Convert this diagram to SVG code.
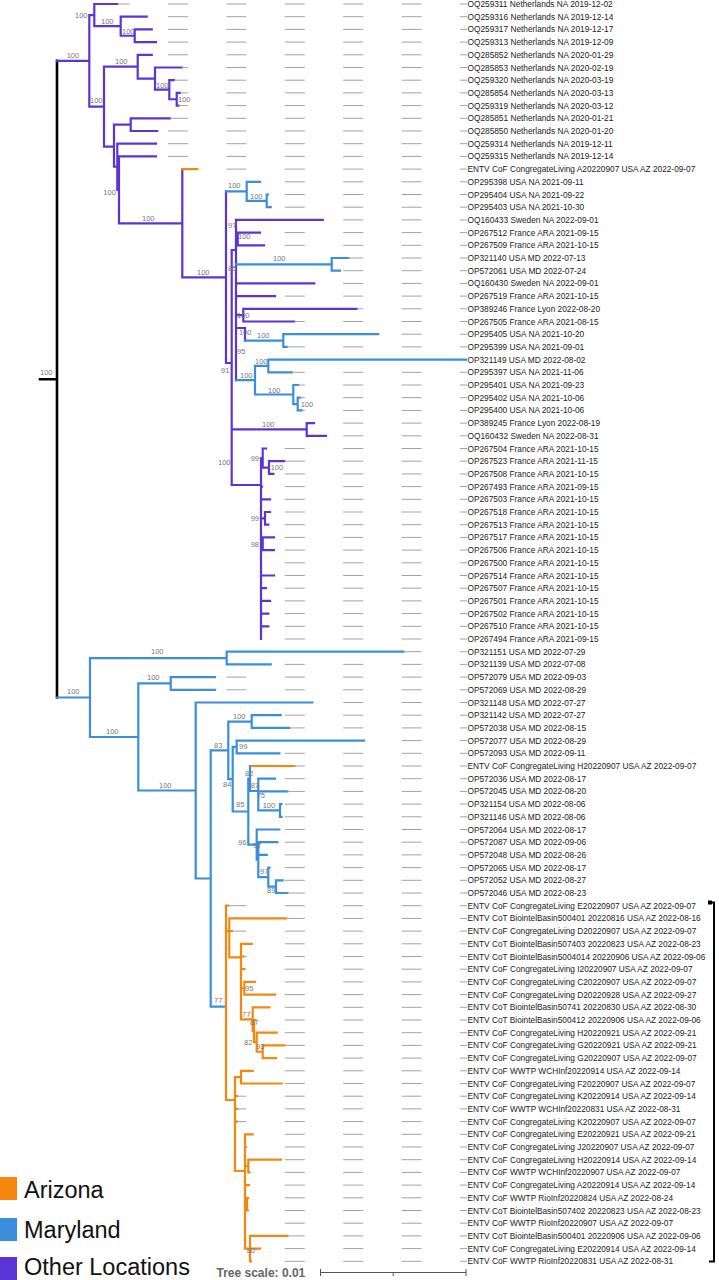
<svg xmlns="http://www.w3.org/2000/svg" width="719" height="1280" viewBox="0 0 719 1280">
<style>
.br{fill:none;stroke-width:2.2;stroke-linecap:square}
.p{stroke:#5b34d8}.b{stroke:#3a8edb}.o{stroke:#f5870e}.k{stroke:#000}
.d{stroke:#a3a3a3;stroke-width:1;stroke-dasharray:20 38.4;stroke-dashoffset:13}
.lb{font-family:"Liberation Sans",Arial,sans-serif;font-size:8.3px;fill:#222}
.bs{font-family:"Liberation Sans",Arial,sans-serif;font-size:7.5px;fill:#777}
.lg{font-family:"Liberation Sans",Arial,sans-serif;font-size:23.5px;fill:#111}
</style>
<rect width="719" height="1280" fill="#fff"/>
<g id="connectors">
<path class="br k" d="M40,379.2 H57 M57,60.9 V697.5" style="stroke-width:2.6"/>
<path class="br p" d="M57,60.9 H89.3 M89.3,15.1 V106.7 M89.3,15.1 H94.3 M94.3,4 V26.2 M94.3,4 H117.3 M94.3,26.2 H120.7 M120.7,16.7 V35.75 M120.7,16.7 H146.7 M120.7,35.75 H134.7 M134.7,29.4 V42.1 M134.7,29.4 H151.7 M134.7,42.1 H156 M89.3,106.7 H104 M104,66.7 V146.7 M104,66.7 H137.7 M137.7,54.8 V78.6 M137.7,54.8 H151.7 M137.7,78.6 H155 M155,67.5 V89.7 M155,67.5 H181.7 M155,89.7 H169.3 M169.3,80.2 V99.25 M169.3,80.2 H174 M169.3,99.25 H176.7 M176.7,92.9 V105.6 M176.7,92.9 H180 M176.7,105.6 H178.5 M104,146.7 H114 M114,124.65 V166.7 M114,124.65 H130.7 M130.7,118.3 V131 M130.7,118.3 H170 M130.7,131 H157.3 M114,166.7 H117.3 M117.3,143.7 V189.8 M117.3,143.7 H156 M117.3,189.8 H119 M119,156.4 V223.3 M119,156.4 H156 M119,223.3 H182.3 M182.3,169.1 V277.3 M182.3,277.3 H226 M226,191.3 V363 M226,363 H231.7 M231.7,250 V485 M231.7,250 H236 M236,219.9 V380.2 M236,219.9 H322.7 M236,239 H237.7 M237.7,232.6 V245.3 M237.7,232.6 H260 M237.7,245.3 H264 M236,283.4 H314.3 M236,296.1 H275 M236,315.15 H243.3 M243.3,308.8 V321.5 M243.3,308.8 H356.7 M243.3,321.5 H294.3 M236,328 H245 M245,328 V340.55 M231.7,429.45 H306.7 M306.7,423.1 V435.8 M306.7,423.1 H314 M306.7,435.8 H326 M231.7,485 H261 M261,458 V639 M261,458 H262.7 M262.7,448.5 V467.55 M262.7,448.5 H266 M262.7,467.55 H269 M269,461.2 V473.9 M269,461.2 H284 M269,473.9 H273.3 M261,486.6 H262 M261,499.3 H270 M261,518.35 H265 M265,512 V524.7 M265,512 H270 M265,524.7 H268.3 M261,543.75 H262.7 M262.7,537.4 V550.1 M262.7,537.4 H274 M262.7,550.1 H274 M261,575.5 H274 M261,588.2 H266 M261,600.9 H270 M261,613.6 H268.3 M261,626.3 H268.3"/>
<path class="br b" d="M226,191.3 H246.7 M246.7,181.8 V200.85 M246.7,181.8 H260 M246.7,200.85 H266.7 M266.7,194.5 V207.2 M266.7,194.5 H268 M266.7,207.2 H270.7 M236,264.35 H331.7 M331.7,258 V270.7 M331.7,258 H348.3 M331.7,270.7 H340 M245,340.55 H283.3 M283.3,334.2 V346.9 M283.3,334.2 H378.3 M283.3,346.9 H286.7 M236,380.2 H255 M255,365.95 V394.5 M255,365.95 H268.3 M268.3,359.6 V372.3 M268.3,359.6 H466 M268.3,372.3 H291.7 M255,394.5 H293.3 M293.3,385 V404.05 M293.3,385 H298.3 M293.3,404.05 H297.7 M297.7,397.7 V410.4 M297.7,397.7 H300 M297.7,410.4 H301.7"/>
<path class="br b" d="M57,697.5 H90 M90,658.05 V737 M90,658.05 H226.7 M226.7,651.7 V664.4 M226.7,651.7 H403.3 M226.7,664.4 H270.7 M90,737 H138.3 M138.3,683.45 V790.5 M138.3,683.45 H170.7 M170.7,677.1 V689.8 M170.7,677.1 H215 M170.7,689.8 H215 M138.3,790.5 H195.7 M195.7,702.5 V878.5 M195.7,702.5 H312.3 M195.7,878.5 H210.7 M210.7,750.4 V1006.7 M210.7,750.4 H228.3 M228.3,721.55 V779.2 M228.3,721.55 H251.7 M251.7,715.2 V727.9 M251.7,715.2 H280.7 M251.7,727.9 H289.3 M228.3,779.2 H232.7 M232.7,746.95 V811.5 M232.7,746.95 H236.7 M236.7,740.6 V753.3 M236.7,740.6 H364 M236.7,753.3 H279.3 M232.7,811.5 H248.3 M248.3,778.5 V844.6 M248.3,778.5 H250 M250,766 V791 M250,791 H258.3 M258.3,778.7 V810.45 M258.3,778.7 H275 M258.3,791.4 H287.3 M258.3,810.45 H280 M280,804.1 V816.8 M280,804.1 H281.5 M280,816.8 H281.5 M248.3,844.6 H256.7 M256.7,829.5 V859.7 M256.7,829.5 H279.3 M256.7,859.7 H258.3 M258.3,842.2 V877.1 M258.3,842.2 H277.3 M258.3,854.9 H266.7 M258.3,877.1 H268.3 M268.3,867.6 V886.65 M268.3,867.6 H269.5 M268.3,886.65 H276 M276,880.3 V893 M276,880.3 H282.7 M276,893 H287.3 M210.7,1006.7 H226"/>
<path class="br o" d="M182.3,169.1 H197.3 M251.5,766 H294.3 M226,905.7 V1100 M226,905.7 H228 M226,931.1 H229.3 M229.3,918.4 V957.3 M229.3,918.4 H286 M229.3,931.1 H232 M229.3,957.3 H241 M241,943.8 V1019.3 M241,943.8 H251.7 M241,956.5 H243.5 M241,969.2 H244 M241,988.25 H244.3 M244.3,981.9 V994.6 M244.3,981.9 H255 M244.3,994.6 H275 M241,1019.3 H252.7 M252.7,1007.3 V1030.85 M252.7,1007.3 H269.3 M252.7,1030.85 H254 M254,1020 V1042.2 M254,1020 H255.5 M254,1042.2 H256.7 M256.7,1032.7 V1051.75 M256.7,1032.7 H276.7 M256.7,1051.75 H262.7 M262.7,1045.4 V1058.1 M262.7,1045.4 H284.3 M262.7,1058.1 H276 M226,1100 H235 M235,1077.15 V1171 M235,1077.15 H241 M241,1070.8 V1083.5 M241,1070.8 H252.7 M241,1083.5 H281.7 M235,1096.2 H237 M235,1108.9 H237 M235,1121.6 H237 M235,1171 H245 M245,1134.3 V1248.6 M245,1134.3 H252.7 M245,1147 H246 M245,1166 H248.3 M248.3,1159.7 V1172.4 M248.3,1159.7 H281 M248.3,1172.4 H249.5 M245,1185.1 H249 M245,1204 H247 M247,1197.8 V1210.5 M247,1197.8 H248 M247,1210.5 H248 M245,1248.6 H250 M250,1235.9 V1261.3 M250,1235.9 H287.3 M250,1248.6 H260 M250,1261.3 H251"/>
</g>
<g id="support-values">
<text class="bs" x="40" y="375">100</text>
<text class="bs" x="66.7" y="58.3">100</text>
<text class="bs" x="75" y="18.3">100</text>
<text class="bs" x="101" y="24.3">100</text>
<text class="bs" x="122" y="33.6">100</text>
<text class="bs" x="115" y="64.3">100</text>
<text class="bs" x="156" y="88.3">100</text>
<text class="bs" x="178" y="101.9">100</text>
<text class="bs" x="90" y="103.3">100</text>
<text class="bs" x="103.3" y="194.9">100</text>
<text class="bs" x="142" y="220.6">100</text>
<text class="bs" x="197" y="274.9">100</text>
<text class="bs" x="228" y="188.3">100</text>
<text class="bs" x="250" y="198.9">100</text>
<text class="bs" x="228" y="228.3">97</text>
<text class="bs" x="238" y="239.3">100</text>
<text class="bs" x="273" y="260.9">100</text>
<text class="bs" x="228" y="270.9">85</text>
<text class="bs" x="237" y="318.3">100</text>
<text class="bs" x="239" y="334.6">100</text>
<text class="bs" x="257" y="337.6">100</text>
<text class="bs" x="237" y="354.3">95</text>
<text class="bs" x="221" y="372.6">91</text>
<text class="bs" x="240" y="377.6">100</text>
<text class="bs" x="255" y="363.6">100</text>
<text class="bs" x="268" y="392.6">100</text>
<text class="bs" x="300.7" y="406.6">100</text>
<text class="bs" x="262" y="426.9">100</text>
<text class="bs" x="218" y="464.9">100</text>
<text class="bs" x="250.7" y="460.9">99</text>
<text class="bs" x="270.7" y="469.9">100</text>
<text class="bs" x="250.7" y="520.9">99</text>
<text class="bs" x="250.7" y="546.6">98</text>
<text class="bs" x="67" y="694.3">100</text>
<text class="bs" x="151" y="653.6">100</text>
<text class="bs" x="106" y="733.6">100</text>
<text class="bs" x="147" y="680.3">100</text>
<text class="bs" x="159" y="787.9">100</text>
<text class="bs" x="214" y="747.6">83</text>
<text class="bs" x="233" y="719.3">100</text>
<text class="bs" x="223" y="786.6">84</text>
<text class="bs" x="239" y="748.6">99</text>
<text class="bs" x="236" y="806.6">85</text>
<text class="bs" x="245" y="775.9">82</text>
<text class="bs" x="250.7" y="788.3">87</text>
<text class="bs" x="256.7" y="797.6">75</text>
<text class="bs" x="262.7" y="807.6">100</text>
<text class="bs" x="238" y="844.9">96</text>
<text class="bs" x="253" y="847.6">97</text>
<text class="bs" x="260" y="874.3">97</text>
<text class="bs" x="267" y="892.6">89</text>
<text class="bs" x="214" y="1002.6">77</text>
<text class="bs" x="245" y="990.9">95</text>
<text class="bs" x="242" y="1016.9">77</text>
<text class="bs" x="250" y="1025.3">87</text>
<text class="bs" x="244" y="1044.9">82</text>
<text class="bs" x="256" y="1049.3">93</text>
<text class="bs" x="246.7" y="1253.3">80</text>
</g>
<g id="leaf-0"><line class="d" x1="467" y1="4" x2="117.3" y2="4"/><text class="lb" x="467.5" y="7">OQ259311 Netherlands NA 2019-12-02</text></g>
<g id="leaf-1"><line class="d" x1="467" y1="16.7" x2="146.7" y2="16.7"/><text class="lb" x="467.5" y="19.7">OQ259316 Netherlands NA 2019-12-14</text></g>
<g id="leaf-2"><line class="d" x1="467" y1="29.4" x2="151.7" y2="29.4"/><text class="lb" x="467.5" y="32.4">OQ259317 Netherlands NA 2019-12-17</text></g>
<g id="leaf-3"><line class="d" x1="467" y1="42.1" x2="156" y2="42.1"/><text class="lb" x="467.5" y="45.1">OQ259313 Netherlands NA 2019-12-09</text></g>
<g id="leaf-4"><line class="d" x1="467" y1="54.8" x2="151.7" y2="54.8"/><text class="lb" x="467.5" y="57.8">OQ285852 Netherlands NA 2020-01-29</text></g>
<g id="leaf-5"><line class="d" x1="467" y1="67.5" x2="181.7" y2="67.5"/><text class="lb" x="467.5" y="70.5">OQ285853 Netherlands NA 2020-02-19</text></g>
<g id="leaf-6"><line class="d" x1="467" y1="80.2" x2="174" y2="80.2"/><text class="lb" x="467.5" y="83.2">OQ259320 Netherlands NA 2020-03-19</text></g>
<g id="leaf-7"><line class="d" x1="467" y1="92.9" x2="180" y2="92.9"/><text class="lb" x="467.5" y="95.9">OQ285854 Netherlands NA 2020-03-13</text></g>
<g id="leaf-8"><line class="d" x1="467" y1="105.6" x2="178.5" y2="105.6"/><text class="lb" x="467.5" y="108.6">OQ259319 Netherlands NA 2020-03-12</text></g>
<g id="leaf-9"><line class="d" x1="467" y1="118.3" x2="170" y2="118.3"/><text class="lb" x="467.5" y="121.3">OQ285851 Netherlands NA 2020-01-21</text></g>
<g id="leaf-10"><line class="d" x1="467" y1="131" x2="157.3" y2="131"/><text class="lb" x="467.5" y="134">OQ285850 Netherlands NA 2020-01-20</text></g>
<g id="leaf-11"><line class="d" x1="467" y1="143.7" x2="156" y2="143.7"/><text class="lb" x="467.5" y="146.7">OQ259314 Netherlands NA 2019-12-11</text></g>
<g id="leaf-12"><line class="d" x1="467" y1="156.4" x2="156" y2="156.4"/><text class="lb" x="467.5" y="159.4">OQ259315 Netherlands NA 2019-12-14</text></g>
<g id="leaf-13"><line class="d" x1="467" y1="169.1" x2="197.3" y2="169.1"/><text class="lb" x="467.5" y="172.1">ENTV CoF CongregateLiving A20220907 USA AZ 2022-09-07</text></g>
<g id="leaf-14"><line class="d" x1="467" y1="181.8" x2="260" y2="181.8"/><text class="lb" x="467.5" y="184.8">OP295398 USA NA 2021-09-11</text></g>
<g id="leaf-15"><line class="d" x1="467" y1="194.5" x2="268" y2="194.5"/><text class="lb" x="467.5" y="197.5">OP295404 USA NA 2021-09-22</text></g>
<g id="leaf-16"><line class="d" x1="467" y1="207.2" x2="270.7" y2="207.2"/><text class="lb" x="467.5" y="210.2">OP295403 USA NA 2021-10-30</text></g>
<g id="leaf-17"><line class="d" x1="467" y1="219.9" x2="322.7" y2="219.9"/><text class="lb" x="467.5" y="222.9">OQ160433 Sweden NA 2022-09-01</text></g>
<g id="leaf-18"><line class="d" x1="467" y1="232.6" x2="260" y2="232.6"/><text class="lb" x="467.5" y="235.6">OP267512 France ARA 2021-09-15</text></g>
<g id="leaf-19"><line class="d" x1="467" y1="245.3" x2="264" y2="245.3"/><text class="lb" x="467.5" y="248.3">OP267509 France ARA 2021-10-15</text></g>
<g id="leaf-20"><line class="d" x1="467" y1="258" x2="348.3" y2="258"/><text class="lb" x="467.5" y="261">OP321140 USA MD 2022-07-13</text></g>
<g id="leaf-21"><line class="d" x1="467" y1="270.7" x2="340" y2="270.7"/><text class="lb" x="467.5" y="273.7">OP572061 USA MD 2022-07-24</text></g>
<g id="leaf-22"><line class="d" x1="467" y1="283.4" x2="314.3" y2="283.4"/><text class="lb" x="467.5" y="286.4">OQ160430 Sweden NA 2022-09-01</text></g>
<g id="leaf-23"><line class="d" x1="467" y1="296.1" x2="275" y2="296.1"/><text class="lb" x="467.5" y="299.1">OP267519 France ARA 2021-10-15</text></g>
<g id="leaf-24"><line class="d" x1="467" y1="308.8" x2="356.7" y2="308.8"/><text class="lb" x="467.5" y="311.8">OP389246 France Lyon 2022-08-20</text></g>
<g id="leaf-25"><line class="d" x1="467" y1="321.5" x2="294.3" y2="321.5"/><text class="lb" x="467.5" y="324.5">OP267505 France ARA 2021-08-15</text></g>
<g id="leaf-26"><line class="d" x1="467" y1="334.2" x2="378.3" y2="334.2"/><text class="lb" x="467.5" y="337.2">OP295405 USA NA 2021-10-20</text></g>
<g id="leaf-27"><line class="d" x1="467" y1="346.9" x2="286.7" y2="346.9"/><text class="lb" x="467.5" y="349.9">OP295399 USA NA 2021-09-01</text></g>
<g id="leaf-28"><text class="lb" x="467.5" y="362.6">OP321149 USA MD 2022-08-02</text></g>
<g id="leaf-29"><line class="d" x1="467" y1="372.3" x2="291.7" y2="372.3"/><text class="lb" x="467.5" y="375.3">OP295397 USA NA 2021-11-06</text></g>
<g id="leaf-30"><line class="d" x1="467" y1="385" x2="298.3" y2="385"/><text class="lb" x="467.5" y="388">OP295401 USA NA 2021-09-23</text></g>
<g id="leaf-31"><line class="d" x1="467" y1="397.7" x2="300" y2="397.7"/><text class="lb" x="467.5" y="400.7">OP295402 USA NA 2021-10-06</text></g>
<g id="leaf-32"><line class="d" x1="467" y1="410.4" x2="301.7" y2="410.4"/><text class="lb" x="467.5" y="413.4">OP295400 USA NA 2021-10-06</text></g>
<g id="leaf-33"><line class="d" x1="467" y1="423.1" x2="314" y2="423.1"/><text class="lb" x="467.5" y="426.1">OP389245 France Lyon 2022-08-19</text></g>
<g id="leaf-34"><line class="d" x1="467" y1="435.8" x2="326" y2="435.8"/><text class="lb" x="467.5" y="438.8">OQ160432 Sweden NA 2022-08-31</text></g>
<g id="leaf-35"><line class="d" x1="467" y1="448.5" x2="266" y2="448.5"/><text class="lb" x="467.5" y="451.5">OP267504 France ARA 2021-10-15</text></g>
<g id="leaf-36"><line class="d" x1="467" y1="461.2" x2="284" y2="461.2"/><text class="lb" x="467.5" y="464.2">OP267523 France ARA 2021-11-15</text></g>
<g id="leaf-37"><line class="d" x1="467" y1="473.9" x2="273.3" y2="473.9"/><text class="lb" x="467.5" y="476.9">OP267508 France ARA 2021-10-15</text></g>
<g id="leaf-38"><line class="d" x1="467" y1="486.6" x2="262" y2="486.6"/><text class="lb" x="467.5" y="489.6">OP267493 France ARA 2021-09-15</text></g>
<g id="leaf-39"><line class="d" x1="467" y1="499.3" x2="270" y2="499.3"/><text class="lb" x="467.5" y="502.3">OP267503 France ARA 2021-10-15</text></g>
<g id="leaf-40"><line class="d" x1="467" y1="512" x2="270" y2="512"/><text class="lb" x="467.5" y="515">OP267518 France ARA 2021-10-15</text></g>
<g id="leaf-41"><line class="d" x1="467" y1="524.7" x2="268.3" y2="524.7"/><text class="lb" x="467.5" y="527.7">OP267513 France ARA 2021-10-15</text></g>
<g id="leaf-42"><line class="d" x1="467" y1="537.4" x2="274" y2="537.4"/><text class="lb" x="467.5" y="540.4">OP267517 France ARA 2021-10-15</text></g>
<g id="leaf-43"><line class="d" x1="467" y1="550.1" x2="274" y2="550.1"/><text class="lb" x="467.5" y="553.1">OP267506 France ARA 2021-10-15</text></g>
<g id="leaf-44"><line class="d" x1="467" y1="562.8" x2="261" y2="562.8"/><text class="lb" x="467.5" y="565.8">OP267500 France ARA 2021-10-15</text></g>
<g id="leaf-45"><line class="d" x1="467" y1="575.5" x2="274" y2="575.5"/><text class="lb" x="467.5" y="578.5">OP267514 France ARA 2021-10-15</text></g>
<g id="leaf-46"><line class="d" x1="467" y1="588.2" x2="266" y2="588.2"/><text class="lb" x="467.5" y="591.2">OP267507 France ARA 2021-10-15</text></g>
<g id="leaf-47"><line class="d" x1="467" y1="600.9" x2="270" y2="600.9"/><text class="lb" x="467.5" y="603.9">OP267501 France ARA 2021-10-15</text></g>
<g id="leaf-48"><line class="d" x1="467" y1="613.6" x2="268.3" y2="613.6"/><text class="lb" x="467.5" y="616.6">OP267502 France ARA 2021-10-15</text></g>
<g id="leaf-49"><line class="d" x1="467" y1="626.3" x2="268.3" y2="626.3"/><text class="lb" x="467.5" y="629.3">OP267510 France ARA 2021-10-15</text></g>
<g id="leaf-50"><line class="d" x1="467" y1="639" x2="261" y2="639"/><text class="lb" x="467.5" y="642">OP267494 France ARA 2021-09-15</text></g>
<g id="leaf-51"><line class="d" x1="467" y1="651.7" x2="403.3" y2="651.7"/><text class="lb" x="467.5" y="654.7">OP321151 USA MD 2022-07-29</text></g>
<g id="leaf-52"><line class="d" x1="467" y1="664.4" x2="270.7" y2="664.4"/><text class="lb" x="467.5" y="667.4">OP321139 USA MD 2022-07-08</text></g>
<g id="leaf-53"><line class="d" x1="467" y1="677.1" x2="215" y2="677.1"/><text class="lb" x="467.5" y="680.1">OP572079 USA MD 2022-09-03</text></g>
<g id="leaf-54"><line class="d" x1="467" y1="689.8" x2="215" y2="689.8"/><text class="lb" x="467.5" y="692.8">OP572069 USA MD 2022-08-29</text></g>
<g id="leaf-55"><line class="d" x1="467" y1="702.5" x2="312.3" y2="702.5"/><text class="lb" x="467.5" y="705.5">OP321148 USA MD 2022-07-27</text></g>
<g id="leaf-56"><line class="d" x1="467" y1="715.2" x2="280.7" y2="715.2"/><text class="lb" x="467.5" y="718.2">OP321142 USA MD 2022-07-27</text></g>
<g id="leaf-57"><line class="d" x1="467" y1="727.9" x2="289.3" y2="727.9"/><text class="lb" x="467.5" y="730.9">OP572038 USA MD 2022-08-15</text></g>
<g id="leaf-58"><line class="d" x1="467" y1="740.6" x2="364" y2="740.6"/><text class="lb" x="467.5" y="743.6">OP572077 USA MD 2022-08-29</text></g>
<g id="leaf-59"><line class="d" x1="467" y1="753.3" x2="279.3" y2="753.3"/><text class="lb" x="467.5" y="756.3">OP572093 USA MD 2022-09-11</text></g>
<g id="leaf-60"><line class="d" x1="467" y1="766" x2="294.3" y2="766"/><text class="lb" x="467.5" y="769">ENTV CoF CongregateLiving H20220907 USA AZ 2022-09-07</text></g>
<g id="leaf-61"><line class="d" x1="467" y1="778.7" x2="275" y2="778.7"/><text class="lb" x="467.5" y="781.7">OP572036 USA MD 2022-08-17</text></g>
<g id="leaf-62"><line class="d" x1="467" y1="791.4" x2="287.3" y2="791.4"/><text class="lb" x="467.5" y="794.4">OP572045 USA MD 2022-08-20</text></g>
<g id="leaf-63"><line class="d" x1="467" y1="804.1" x2="281.5" y2="804.1"/><text class="lb" x="467.5" y="807.1">OP321154 USA MD 2022-08-06</text></g>
<g id="leaf-64"><line class="d" x1="467" y1="816.8" x2="281.5" y2="816.8"/><text class="lb" x="467.5" y="819.8">OP321146 USA MD 2022-08-06</text></g>
<g id="leaf-65"><line class="d" x1="467" y1="829.5" x2="279.3" y2="829.5"/><text class="lb" x="467.5" y="832.5">OP572064 USA MD 2022-08-17</text></g>
<g id="leaf-66"><line class="d" x1="467" y1="842.2" x2="277.3" y2="842.2"/><text class="lb" x="467.5" y="845.2">OP572087 USA MD 2022-09-06</text></g>
<g id="leaf-67"><line class="d" x1="467" y1="854.9" x2="266.7" y2="854.9"/><text class="lb" x="467.5" y="857.9">OP572048 USA MD 2022-08-26</text></g>
<g id="leaf-68"><line class="d" x1="467" y1="867.6" x2="269.5" y2="867.6"/><text class="lb" x="467.5" y="870.6">OP572065 USA MD 2022-08-17</text></g>
<g id="leaf-69"><line class="d" x1="467" y1="880.3" x2="282.7" y2="880.3"/><text class="lb" x="467.5" y="883.3">OP572052 USA MD 2022-08-27</text></g>
<g id="leaf-70"><line class="d" x1="467" y1="893" x2="287.3" y2="893"/><text class="lb" x="467.5" y="896">OP572046 USA MD 2022-08-23</text></g>
<g id="leaf-71"><line class="d" x1="467" y1="905.7" x2="228" y2="905.7"/><text class="lb" x="467.5" y="908.7">ENTV CoF CongregateLiving E20220907 USA AZ 2022-09-07</text></g>
<g id="leaf-72"><line class="d" x1="467" y1="918.4" x2="286" y2="918.4"/><text class="lb" x="467.5" y="921.4">ENTV CoT BiointelBasin500401 20220816 USA AZ 2022-08-16</text></g>
<g id="leaf-73"><line class="d" x1="467" y1="931.1" x2="232" y2="931.1"/><text class="lb" x="467.5" y="934.1">ENTV CoF CongregateLiving D20220907 USA AZ 2022-09-07</text></g>
<g id="leaf-74"><line class="d" x1="467" y1="943.8" x2="251.7" y2="943.8"/><text class="lb" x="467.5" y="946.8">ENTV CoT BiointelBasin507403 20220823 USA AZ 2022-08-23</text></g>
<g id="leaf-75"><line class="d" x1="467" y1="956.5" x2="243.5" y2="956.5"/><text class="lb" x="467.5" y="959.5">ENTV CoT BiointelBasin5004014 20220906 USA AZ 2022-09-06</text></g>
<g id="leaf-76"><line class="d" x1="467" y1="969.2" x2="244" y2="969.2"/><text class="lb" x="467.5" y="972.2">ENTV CoF CongregateLiving I20220907 USA AZ 2022-09-07</text></g>
<g id="leaf-77"><line class="d" x1="467" y1="981.9" x2="255" y2="981.9"/><text class="lb" x="467.5" y="984.9">ENTV CoF CongregateLiving C20220907 USA AZ 2022-09-07</text></g>
<g id="leaf-78"><line class="d" x1="467" y1="994.6" x2="275" y2="994.6"/><text class="lb" x="467.5" y="997.6">ENTV CoF CongregateLiving D20220928 USA AZ 2022-09-27</text></g>
<g id="leaf-79"><line class="d" x1="467" y1="1007.3" x2="269.3" y2="1007.3"/><text class="lb" x="467.5" y="1010.3">ENTV CoT BiointelBasin50741 20220830 USA AZ 2022-08-30</text></g>
<g id="leaf-80"><line class="d" x1="467" y1="1020" x2="255.5" y2="1020"/><text class="lb" x="467.5" y="1023">ENTV CoT BiointelBasin500412 20220906 USA AZ 2022-09-06</text></g>
<g id="leaf-81"><line class="d" x1="467" y1="1032.7" x2="276.7" y2="1032.7"/><text class="lb" x="467.5" y="1035.7">ENTV CoF CongregateLiving H20220921 USA AZ 2022-09-21</text></g>
<g id="leaf-82"><line class="d" x1="467" y1="1045.4" x2="284.3" y2="1045.4"/><text class="lb" x="467.5" y="1048.4">ENTV CoF CongregateLiving G20220921 USA AZ 2022-09-21</text></g>
<g id="leaf-83"><line class="d" x1="467" y1="1058.1" x2="276" y2="1058.1"/><text class="lb" x="467.5" y="1061.1">ENTV CoF CongregateLiving G20220907 USA AZ 2022-09-07</text></g>
<g id="leaf-84"><line class="d" x1="467" y1="1070.8" x2="252.7" y2="1070.8"/><text class="lb" x="467.5" y="1073.8">ENTV CoF WWTP WCHInf20220914 USA AZ 2022-09-14</text></g>
<g id="leaf-85"><line class="d" x1="467" y1="1083.5" x2="281.7" y2="1083.5"/><text class="lb" x="467.5" y="1086.5">ENTV CoF CongregateLiving F20220907 USA AZ 2022-09-07</text></g>
<g id="leaf-86"><line class="d" x1="467" y1="1096.2" x2="237" y2="1096.2"/><text class="lb" x="467.5" y="1099.2">ENTV CoF CongregateLiving K20220914 USA AZ 2022-09-14</text></g>
<g id="leaf-87"><line class="d" x1="467" y1="1108.9" x2="237" y2="1108.9"/><text class="lb" x="467.5" y="1111.9">ENTV CoF WWTP WCHInf20220831 USA AZ 2022-08-31</text></g>
<g id="leaf-88"><line class="d" x1="467" y1="1121.6" x2="237" y2="1121.6"/><text class="lb" x="467.5" y="1124.6">ENTV CoF CongregateLiving K20220907 USA AZ 2022-09-07</text></g>
<g id="leaf-89"><line class="d" x1="467" y1="1134.3" x2="252.7" y2="1134.3"/><text class="lb" x="467.5" y="1137.3">ENTV CoF CongregateLiving E20220921 USA AZ 2022-09-21</text></g>
<g id="leaf-90"><line class="d" x1="467" y1="1147" x2="246" y2="1147"/><text class="lb" x="467.5" y="1150">ENTV CoF CongregateLiving J20220907 USA AZ 2022-09-07</text></g>
<g id="leaf-91"><line class="d" x1="467" y1="1159.7" x2="281" y2="1159.7"/><text class="lb" x="467.5" y="1162.7">ENTV CoF CongregateLiving H20220914 USA AZ 2022-09-14</text></g>
<g id="leaf-92"><line class="d" x1="467" y1="1172.4" x2="249.5" y2="1172.4"/><text class="lb" x="467.5" y="1175.4">ENTV CoF WWTP WCHInf20220907 USA AZ 2022-09-07</text></g>
<g id="leaf-93"><line class="d" x1="467" y1="1185.1" x2="249" y2="1185.1"/><text class="lb" x="467.5" y="1188.1">ENTV CoF CongregateLiving A20220914 USA AZ 2022-09-14</text></g>
<g id="leaf-94"><line class="d" x1="467" y1="1197.8" x2="248" y2="1197.8"/><text class="lb" x="467.5" y="1200.8">ENTV CoF WWTP RioInf20220824 USA AZ 2022-08-24</text></g>
<g id="leaf-95"><line class="d" x1="467" y1="1210.5" x2="248" y2="1210.5"/><text class="lb" x="467.5" y="1213.5">ENTV CoT BiointelBasin507402 20220823 USA AZ 2022-08-23</text></g>
<g id="leaf-96"><line class="d" x1="467" y1="1223.2" x2="245" y2="1223.2"/><text class="lb" x="467.5" y="1226.2">ENTV CoF WWTP RioInf20220907 USA AZ 2022-09-07</text></g>
<g id="leaf-97"><line class="d" x1="467" y1="1235.9" x2="287.3" y2="1235.9"/><text class="lb" x="467.5" y="1238.9">ENTV CoT BiointelBasin500401 20220906 USA AZ 2022-09-06</text></g>
<g id="leaf-98"><line class="d" x1="467" y1="1248.6" x2="260" y2="1248.6"/><text class="lb" x="467.5" y="1251.6">ENTV CoF CongregateLiving E20220914 USA AZ 2022-09-14</text></g>
<g id="leaf-99"><line class="d" x1="467" y1="1261.3" x2="251" y2="1261.3"/><text class="lb" x="467.5" y="1264.3">ENTV CoF WWTP RioInf20220831 USA AZ 2022-08-31</text></g>
<g id="bracket"><path d="M709,902.5 H714 V1261.5 H709" fill="none" stroke="#000" stroke-width="2"/><rect x="708" y="900.5" width="4" height="4" fill="#000"/></g>
<g id="scale">
<text x="216.5" y="1276.5" style="font-family:'Liberation Sans',Arial,sans-serif;font-size:12px;font-weight:bold;fill:#666">Tree scale: 0.01</text>
<path d="M320.5,1272.5 H466 M320.5,1269 V1276 M466,1269 V1276 M393.2,1272.5 V1276" fill="none" stroke="#555" stroke-width="1"/>
</g>
<g id="legend">
<rect x="0" y="1177" width="17" height="23" fill="#f5870e"/>
<text class="lg" x="24" y="1198">Arizona</text>
<rect x="0" y="1218" width="17" height="23" fill="#3a8edb"/>
<text class="lg" x="24" y="1238">Maryland</text>
<rect x="0" y="1257" width="17" height="23" fill="#5b34d8"/>
<text class="lg" x="24" y="1275">Other Locations</text>
</g>
</svg>
